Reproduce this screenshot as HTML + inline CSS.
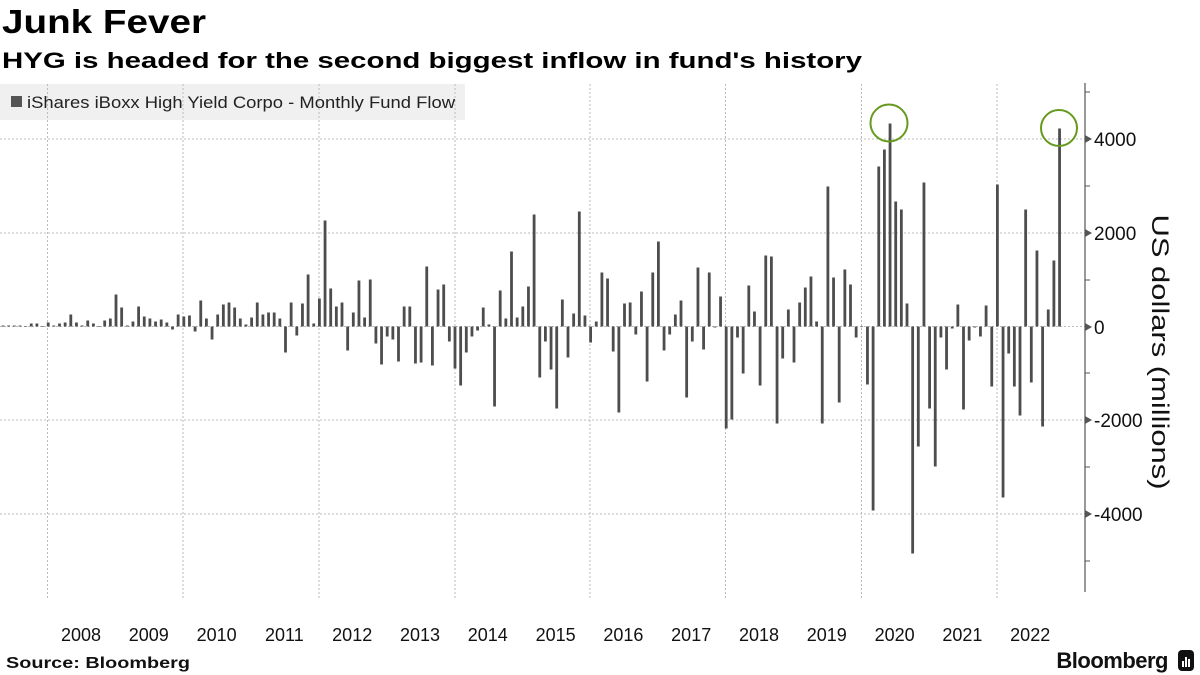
<!DOCTYPE html>
<html><head><meta charset="utf-8"><style>
body{margin:0;width:1200px;height:675px;overflow:hidden;background:#fff;font-family:"Liberation Sans",sans-serif;}
</style></head><body>
<svg id="c" width="1200" height="675" xmlns="http://www.w3.org/2000/svg" style="position:absolute;left:0;top:0">
<text x="2" y="33" font-size="33" font-weight="bold" fill="#000" textLength="204" lengthAdjust="spacingAndGlyphs" font-family="Liberation Sans, sans-serif">Junk Fever</text>
<text x="2" y="68" font-size="22" font-weight="bold" fill="#000" textLength="860" lengthAdjust="spacingAndGlyphs" font-family="Liberation Sans, sans-serif">HYG is headed for the second biggest inflow in fund's history</text>
<rect x="0" y="84" width="465" height="36" fill="#f0f0f0"/>
<g stroke="#bbb" stroke-width="1" stroke-dasharray="2,2">
<line x1="47.5" y1="84" x2="47.5" y2="598"/><line x1="183" y1="84" x2="183" y2="598"/>
<line x1="319" y1="84" x2="319" y2="598"/><line x1="455" y1="84" x2="455" y2="598"/>
<line x1="590" y1="84" x2="590" y2="598"/><line x1="725.5" y1="84" x2="725.5" y2="598"/>
<line x1="861.5" y1="84" x2="861.5" y2="598"/><line x1="997" y1="84" x2="997" y2="598"/>
<line x1="0" y1="139" x2="1085" y2="139"/><line x1="0" y1="233" x2="1085" y2="233"/>
<line x1="0" y1="326.5" x2="1085" y2="326.5"/><line x1="0" y1="420" x2="1085" y2="420"/>
<line x1="0" y1="514" x2="1085" y2="514"/>
</g>
<rect x="11" y="96" width="11" height="11" fill="#555"/>
<text x="27" y="108" font-size="17" fill="#222" textLength="428" lengthAdjust="spacingAndGlyphs" font-family="Liberation Sans, sans-serif">iShares iBoxx High Yield Corpo - Monthly Fund Flow</text>
<g id="bars" fill="#4d4d4d"></g>
<line x1="1085" y1="83" x2="1085" y2="592" stroke="#555" stroke-width="1.2"/>
<g fill="#555">
<polygon points="1085,135 1092,139 1085,143"/><polygon points="1085,229 1092,233 1085,237"/>
<polygon points="1085,323 1092,327 1085,331"/><polygon points="1085,416 1092,420 1085,424"/>
<polygon points="1085,510 1092,514 1085,518"/>
</g>
<g stroke="#555" stroke-width="1">
<line x1="1085" y1="92" x2="1090" y2="92"/><line x1="1085" y1="186" x2="1090" y2="186"/>
<line x1="1085" y1="280" x2="1090" y2="280"/><line x1="1085" y1="373" x2="1090" y2="373"/>
<line x1="1085" y1="467" x2="1090" y2="467"/><line x1="1085" y1="561" x2="1090" y2="561"/>
</g>
<g font-size="19" fill="#111" font-family="Liberation Sans, sans-serif">
<text x="1094" y="146">4000</text><text x="1094" y="240">2000</text>
<text x="1094" y="334">0</text><text x="1094" y="427">-2000</text><text x="1094" y="521">-4000</text>
</g>
<text transform="translate(1152,352) rotate(90)" text-anchor="middle" font-size="24" fill="#111" textLength="275" lengthAdjust="spacingAndGlyphs" font-family="Liberation Sans, sans-serif">US dollars (millions)</text>
<circle cx="889" cy="123" r="18.5" fill="none" stroke="#669a1e" stroke-width="2"/>
<circle cx="1059" cy="128" r="18" fill="none" stroke="#669a1e" stroke-width="2"/>
<g id="yr" font-size="18" fill="#111" text-anchor="middle" font-family="Liberation Sans, sans-serif"></g>
<text x="6" y="668" font-size="16" font-weight="bold" fill="#111" textLength="184" lengthAdjust="spacingAndGlyphs" font-family="Liberation Sans, sans-serif">Source: Bloomberg</text>
<text x="1168" y="668" text-anchor="end" font-size="22" font-weight="bold" fill="#111" letter-spacing="-0.5" font-family="Liberation Sans, sans-serif">Bloomberg</text>
<rect x="1178" y="650" width="16" height="21" rx="4" fill="#111"/>
<g fill="#fff"><rect x="1182" y="661" width="2" height="6"/><rect x="1185" y="657" width="2" height="10"/><rect x="1188" y="659" width="2" height="8"/></g>
</svg>
<script>
var h=[1,1,1,1,0.3,3,3,0.3,4,1,3,4,12,4,1,6,3,0.3,6,8,32,19,1,5,20,10,8,5,7,4,-3,12,10,11,-5,26,8,-13,12,22,24,19,8,2,9,24,12,14,14,8,
-26,24,-9,23,52,3,28,106,38,20,24,-24,14,46,9,47,-17,-38,-10,-13,-35,20,20,-37,-36,60,-39,37,42,-15,-42,-59,-26,-10,-4,19,2,-80,36,8,75,9,20,40,112,-51,-15,
-43,-82,27,-31,13,115,11,-16,5,54,48,-25,-86,23,24,-8,35,-55,54,85,-24,-8,12,26,-71,-15,59,-23,54,-1,30,-102,-93,-11,-47,41,15,-59,71,70,-97,-32,17,-36,24,39,50,5,
-97,140,49,-76,57,42,-11,0,-58,-184,160,177,203,125,117,23,-227,-120,144,-82,-140,-11,-43,-2,22,-83,-14,-1,-10,21,-60,142,-171,-27,-60,-89,117,-56,76,-100,17,66,198];
var s='';for(var i=0;i<h.length;i++){var x=3+i*5.65-1.4,v=h[i];var y=v>=0?326.5-v:326.5;s+='<rect x="'+x.toFixed(2)+'" y="'+y.toFixed(1)+'" width="2.8" height="'+Math.max(Math.abs(v),0.6)+'"/>';}
document.getElementById('bars').innerHTML=s;
var t='';for(var k=0;k<15;k++){t+='<text x="'+(81+k*67.8).toFixed(1)+'" y="641">'+(2008+k)+'</text>';}
document.getElementById('yr').innerHTML=t;
</script>
</body></html>
